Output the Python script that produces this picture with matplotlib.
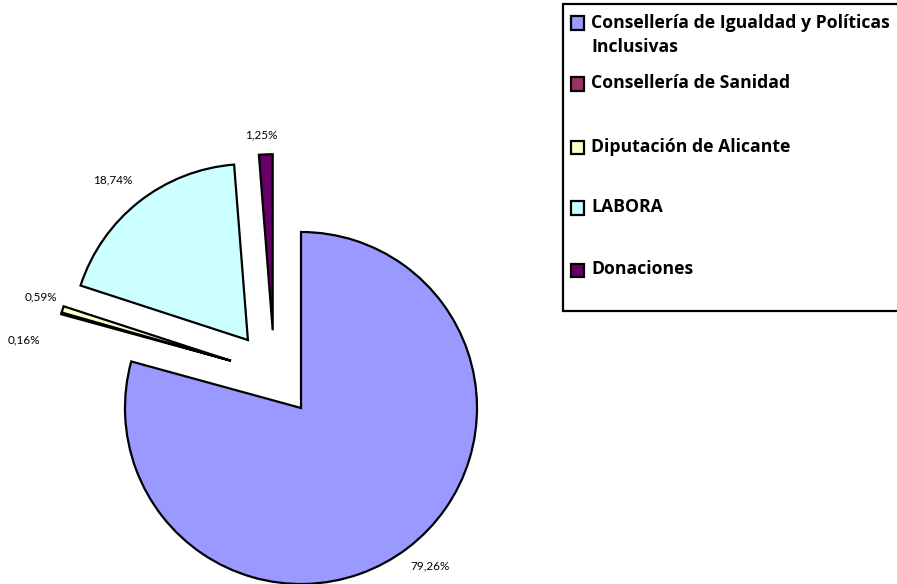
import numpy as np
import matplotlib.pyplot as plt
from matplotlib.patches import Rectangle

labels = ['Consellería de Igualdad y Políticas\nInclusivas', 'Consellería de Sanidad',
          'Diputación de Alicante', 'LABORA', 'Donaciones']
values = [79.26, 0.16, 0.59, 18.74, 1.25]
pct_text = ['79,26%', '0,16%', '0,59%', '18,74%', '1,25%']
colors = ['#9999FF', '#993366', '#FFFFCC', '#CCFFFF', '#660066']

# how far each slice is pulled out (radius units) and in which direction (deg)
explode_r = [0.0, 0.48, 0.48, 0.49, 0.47]
explode_dir = [0, 146, 146, 128, 110]
# label distance from the slice tip and an angle nudge
lab_dist = [1.16, 1.18, 1.14, 1.19, 1.11]
lab_nudge = [2, 10, -1.5, 2, 1]

W, H, R = 897, 584, 176.0
cx, cy = 301, 408  # pie centre in pixels (from top)

fig = plt.figure(figsize=(W / 100, H / 100), dpi=100)
ax = fig.add_axes([0, 0, 1, 1])

wedges, _ = ax.pie(values, colors=colors, startangle=90, counterclock=False, radius=1,
                   wedgeprops=dict(edgecolor='black', linewidth=1.6, joinstyle='miter'),
                   frame=True)
ax.set_xlim(-cx / R, (W - cx) / R)
ax.set_ylim(-(H - cy) / R, cy / R)
ax.set_aspect('auto')
ax.axis('off')

for w, r, d, t, ld, nd in zip(wedges, explode_r, explode_dir, pct_text, lab_dist, lab_nudge):
    c = (r * np.cos(np.radians(d)), r * np.sin(np.radians(d)))
    w.set_center(c)
    mid = np.radians((w.theta1 + w.theta2) / 2 + nd)
    ax.text(c[0] + ld * np.cos(mid), c[1] + ld * np.sin(mid), t,
            ha='center', va='center', fontsize=8.5, family='Lato')

# legend box drawn by hand (Excel-style spacing)
fig.patches.append(Rectangle((563 / W, 1 - 311 / H), 340 / W, 307 / H, transform=fig.transFigure,
                             facecolor='white', edgecolor='black', linewidth=1.6))
leg_y = [23, 84, 147, 208, 270]
for lab, col, y in zip(labels, colors, leg_y):
    fig.patches.append(Rectangle((571 / W, 1 - (y + 6.5) / H), 13 / W, 13 / H,
                                 transform=fig.transFigure, facecolor=col,
                                 edgecolor='black', linewidth=1.6))
    fig.text(591 / W, 1 - (y - 9.5) / H, lab, ha='left', va='top', fontsize=12.7,
             family='Open Sans', fontweight='bold', linespacing=1.5)

fig.savefig('out.png', dpi=100)
